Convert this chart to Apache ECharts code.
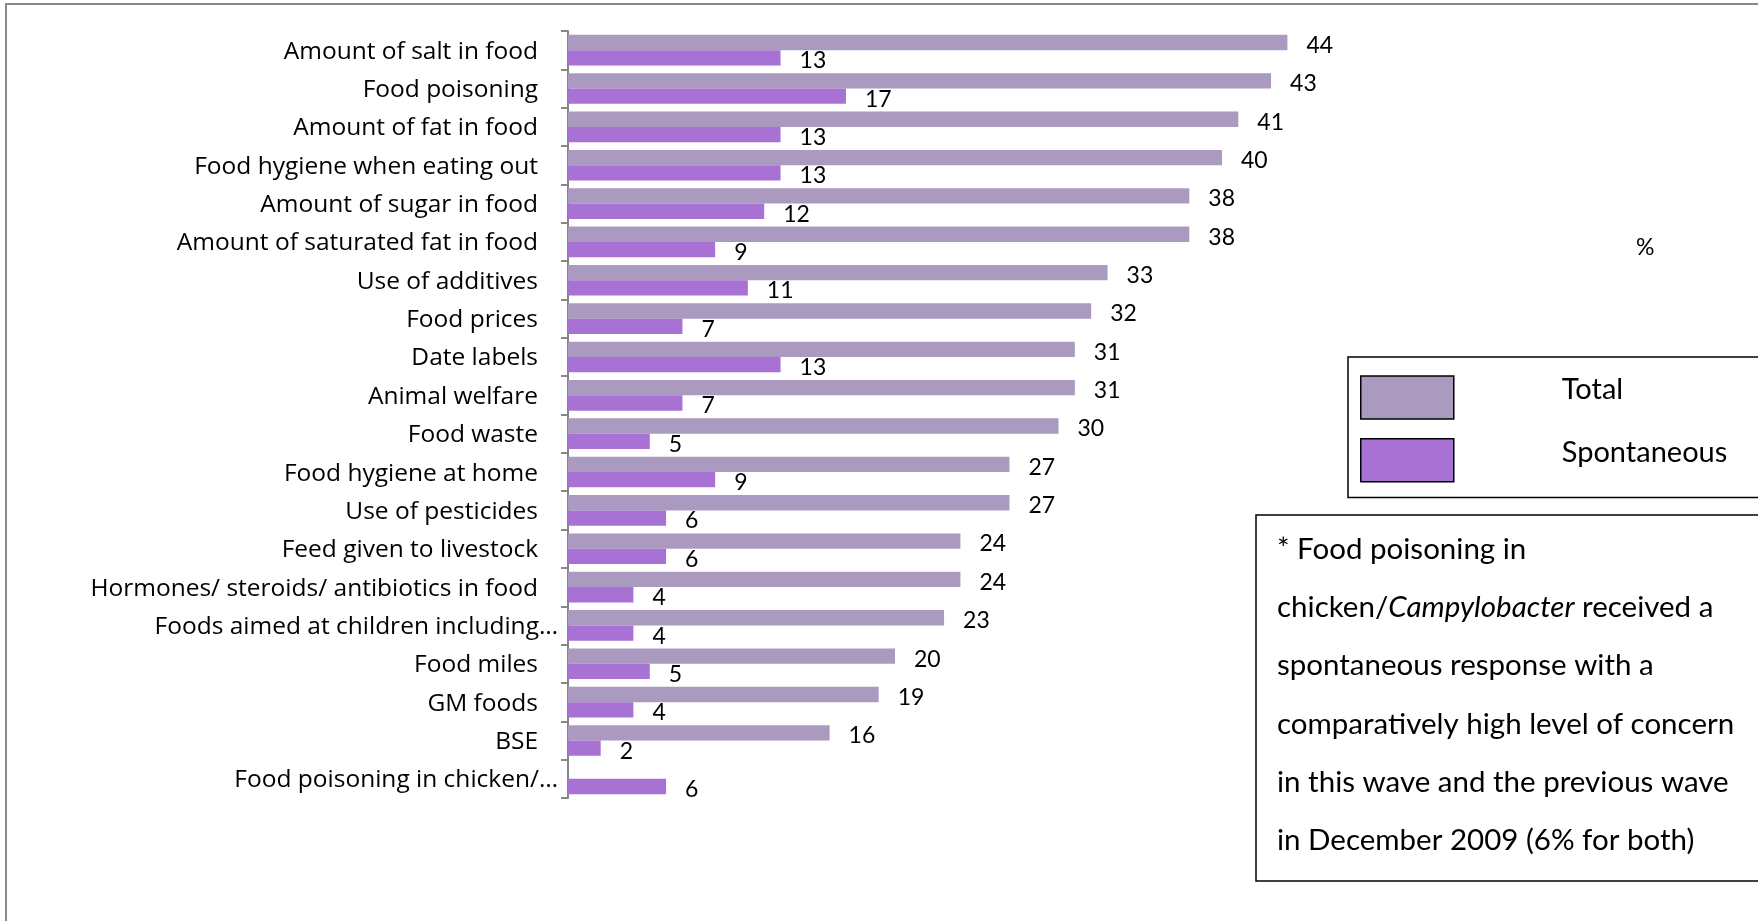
<!DOCTYPE html>
<html>
<head>
<meta charset="utf-8">
<script src="https://cdn.jsdelivr.net/npm/echarts@6/dist/echarts.min.js"></script>
<style>
html,body{margin:0;padding:0;background:#fff;}
#chart{width:1758px;height:921px;}
</style>
</head>
<body>
<div id="chart"></div>
<script>
const categories = [
  "Amount of salt in food",
  "Food poisoning",
  "Amount of fat in food",
  "Food hygiene when eating out",
  "Amount of sugar in food",
  "Amount of saturated fat in food",
  "Use of additives",
  "Food prices",
  "Date labels",
  "Animal welfare",
  "Food waste",
  "Food hygiene at home",
  "Use of pesticides",
  "Feed given to livestock",
  "Hormones/ steroids/ antibiotics in food",
  "Foods aimed at children including\u2026",
  "Food miles",
  "GM foods",
  "BSE",
  "Food poisoning in chicken/\u2026"
];
const totalValues = [44, 43, 41, 40, 38, 38, 33, 32, 31, 31, 30, 27, 27, 24, 24, 23, 20, 19, 16, null];
const spontaneousValues = [13, 17, 13, 13, 12, 9, 11, 7, 13, 7, 5, 9, 6, 6, 4, 4, 5, 4, 2, 6];
const seriesNames = ["Total", "Spontaneous"];
const noteLines = [
  "* Food poisoning in",
  "chicken/{i|Campylobacter} received a",
  "spontaneous response with a",
  "comparatively high level of concern",
  "in this wave and the previous wave",
  "in December 2009 (6% for both)"
];

const FONT = "Lato";
const CAT_FONT = "Open Sans";
const chart = echarts.init(document.getElementById('chart'), null, {renderer: 'canvas'});

const labelStyle = {
  show: true,
  position: 'right',
  distance: 19,
  offset: [0, 3],
  color: '#000',
  fontFamily: FONT,
  fontSize: 23
};

chart.setOption({
  animation: false,
  backgroundColor: '#fff',
  grid: {left: 568, top: 31, width: 817.5, height: 767, containLabel: false},
  xAxis: {
    type: 'value', min: 0, max: 50,
    show: false
  },
  yAxis: {
    type: 'category',
    data: categories,
    inverse: true,
    axisLine: {show: true, lineStyle: {color: '#868686', width: 2}},
    axisTick: {show: true, length: 7, lineStyle: {color: '#868686', width: 2}},
    axisLabel: {
      margin: 10,
      color: '#000',
      fontFamily: CAT_FONT,
      fontSize: 24.5,
      formatter: function (v) {
        return v.endsWith('\u2026') ? '{b|' + v + '}' : '{a|' + v + '}';
      },
      rich: {
        a: {fontFamily: CAT_FONT, fontSize: 24.5, color: '#000', padding: [3, 20, 0, 0]},
        b: {fontFamily: CAT_FONT, fontSize: 24.5, color: '#000', padding: [3, 0, 0, 0]}
      }
    }
  },
  legend: {
    left: 1348, top: 357,
    orient: 'vertical',
    itemWidth: 93, itemHeight: 43, itemGap: 18,
    padding: [18, 400, 15, 12],
    borderColor: '#000', borderWidth: 1.5,
    backgroundColor: '#fff',
    icon: 'rect',
    itemStyle: {borderColor: '#000', borderWidth: 1.5},
    formatter: function (name) { return '{t|' + name + '}\n{s|}'; },
    textStyle: {
      fontFamily: FONT, fontSize: 29, color: '#000', padding: [0, 0, 0, 103],
      rich: {
        t: {fontFamily: FONT, fontSize: 29, color: '#000', lineHeight: 34},
        s: {fontSize: 1, lineHeight: 16}
      }
    },
    data: seriesNames
  },
  graphic: [
    {type: 'rect', silent: true, z: -10, shape: {x: 6, y: 4, width: 1900, height: 1000},
     style: {fill: 'none', stroke: '#8a8a8a', lineWidth: 2}},
    {type: 'text', left: 1636, top: 236, style: {text: '%', fontFamily: FONT, fontSize: 23, fill: '#000'}},
    {type: 'rect', silent: true, shape: {x: 1256, y: 515, width: 700, height: 366},
     style: {fill: '#fff', stroke: '#000', lineWidth: 1.5}},
    {type: 'text', x: 1277, y: 520, z: 10,
     style: {
       text: noteLines.join('\n'),
       fontFamily: FONT, fontSize: 29.5, fill: '#000',
       lineHeight: 58.3,
       verticalAlign: 'top',
       rich: {i: {fontFamily: FONT, fontSize: 29.5, fontStyle: 'italic', fill: '#000', lineHeight: 58.3}}
     }}
  ],
  series: [
    {
      name: seriesNames[0], type: 'bar', data: totalValues,
      barGap: '0%', barCategoryGap: '20%',
      itemStyle: {color: '#AA9ABF'},
      label: labelStyle
    },
    {
      name: seriesNames[1], type: 'bar', data: spontaneousValues,
      itemStyle: {color: '#A871D4'},
      label: labelStyle
    }
  ]
});
</script>
</body>
</html>
